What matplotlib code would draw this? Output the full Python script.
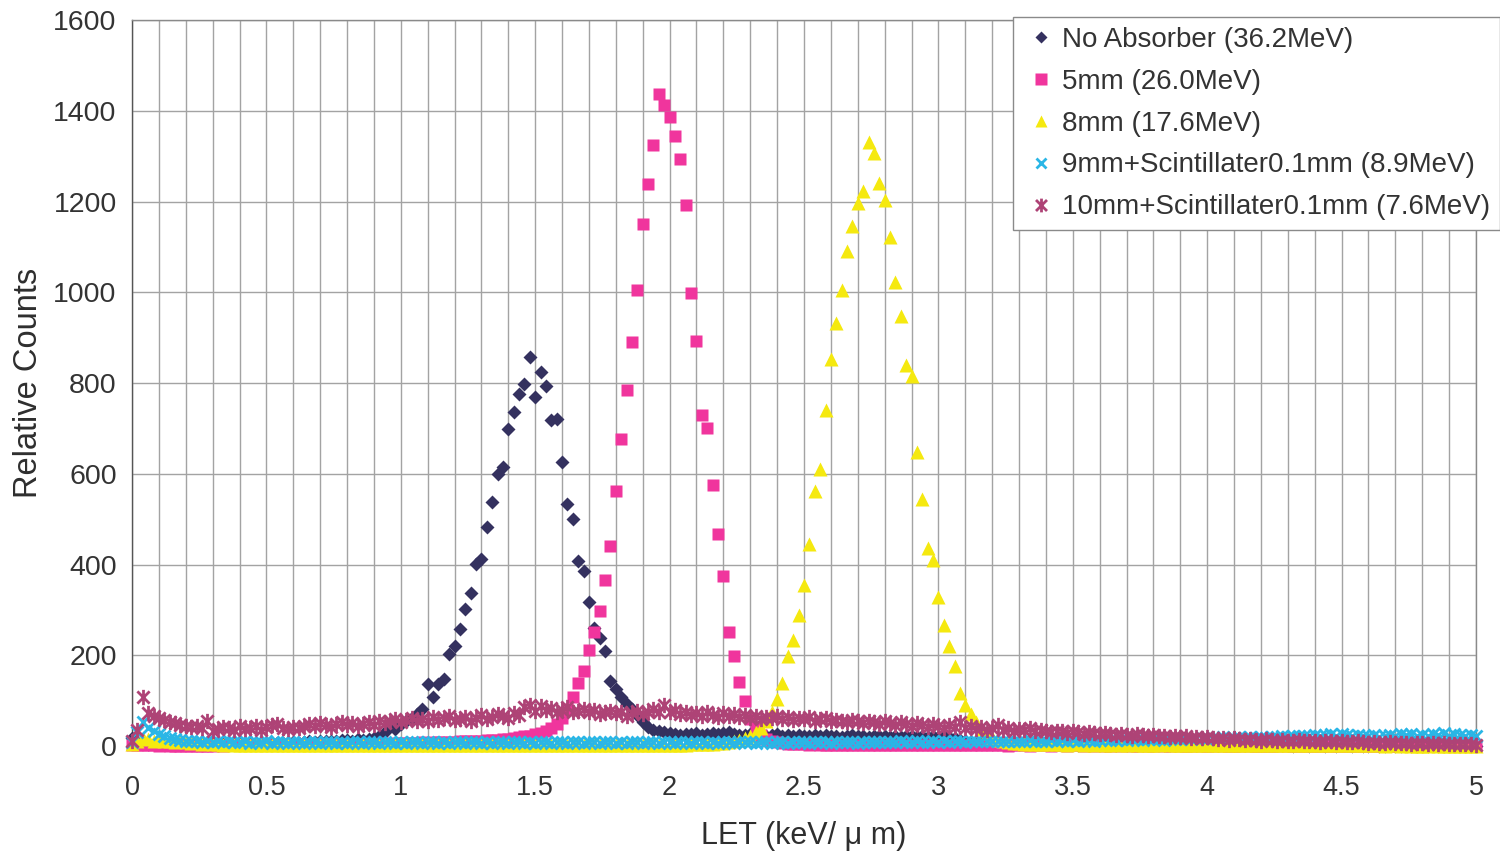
import numpy as np
import matplotlib
matplotlib.use("Agg")
import matplotlib.pyplot as plt
from matplotlib.path import Path
from matplotlib.ticker import MultipleLocator, FuncFormatter

plt.rcParams['font.family'] = ['Liberation Sans', 'DejaVu Sans']

# LET bins, 0.02 keV/um wide, 0 .. 5
bin_width = 0.02
let_bins = np.round(np.arange(251) * bin_width, 2)

# counts per bin (one row = 0.2 keV/um)
no_absorber = [
    18, 8, 6, 5, 4, 5, 4, 6, 5, 4,
    5, 4, 5, 6, 4, 5, 4, 5, 6, 5,
    4, 5, 6, 5, 4, 6, 5, 6, 7, 6,
    8, 7, 9, 10, 8, 11, 12, 10, 12, 13,
    14, 12, 15, 14, 16, 18, 22, 30, 44, 38,
    48, 55, 62, 70, 81, 137, 108, 137, 147, 202,
    221, 257, 302, 338, 401, 412, 482, 537, 600, 616,
    698, 736, 775, 798, 857, 770, 824, 794, 719, 721,
    627, 533, 500, 408, 385, 318, 261, 239, 210, 143,
    125, 107, 92, 82, 68, 52, 42, 36, 32, 30,
    28, 26, 25, 27, 26, 28, 25, 27, 29, 26,
    28, 30, 27, 25, 24, 26, 23, 25, 22, 24,
    26, 23, 25, 22, 24, 21, 23, 25, 22, 24,
    21, 23, 20, 22, 24, 21, 23, 20, 22, 21,
    23, 20, 22, 19, 21, 23, 20, 22, 19, 21,
    20, 22, 19, 18, 14, 10, 8, 7, 6, 6,
    5, 6, 5, 6, 5, 4, 5, 6, 5, 4,
    5, 4, 5, 4, 5, 4, 3, 4, 5, 4,
    4, 3, 4, 3, 4, 3, 4, 3, 3, 4,
    3, 4, 3, 3, 2, 3, 3, 2, 3, 3,
    2, 3, 3, 2, 3, 2, 2, 3, 2, 2,
    3, 2, 2, 3, 2, 2, 1, 2, 2, 1,
    2, 2, 1, 2, 1, 2, 2, 1, 2, 1,
    1, 2, 1, 1, 2, 1, 1, 2, 1, 1,
    1, 1, 2, 1, 1, 1, 2, 1, 1, 1,
    1,
]

al_5mm = [
    3, 2, 3, 2, 2, 1, 2, 1, 1, 1,
    1, 0, 1, 0, 1, 1, 2, 1, 2, 2,
    2, 2, 3, 2, 3, 2, 3, 3, 2, 3,
    3, 3, 4, 3, 4, 3, 4, 4, 3, 4,
    4, 5, 4, 5, 4, 5, 5, 6, 5, 6,
    6, 7, 6, 7, 8, 7, 8, 9, 8, 9,
    9, 10, 10, 11, 12, 12, 13, 14, 14, 15,
    16, 18, 20, 22, 22, 26, 28, 33, 40, 48,
    62, 82, 109, 139, 165, 212, 252, 297, 365, 440,
    561, 677, 785, 891, 1004, 1151, 1238, 1325, 1438, 1412,
    1386, 1344, 1294, 1193, 998, 893, 729, 702, 576, 468,
    374, 252, 198, 142, 100, 60, 40, 25, 15, 10,
    8, 6, 5, 5, 4, 4, 3, 4, 3, 3,
    3, 3, 2, 3, 3, 2, 3, 2, 3, 2,
    2, 3, 2, 2, 3, 2, 2, 3, 2, 2,
    2, 2, 3, 2, 2, 2, 3, 2, 2, 2,
    2, 2, 2, 1, 2, 2, 2, 1, 2, 2,
    2, 1, 2, 2, 1, 2, 2, 1, 2, 1,
    2, 1, 1, 2, 1, 2, 1, 1, 2, 1,
    1, 2, 1, 1, 2, 1, 1, 1, 2, 1,
    1, 1, 2, 1, 1, 1, 1, 2, 1, 1,
    1, 1, 1, 1, 2, 1, 1, 1, 1, 1,
    1, 1, 1, 1, 1, 1, 1, 1, 1, 1,
    1, 1, 1, 0, 1, 1, 1, 0, 1, 1,
    1, 0, 1, 1, 0, 1, 1, 0, 1, 0,
    1,
]

al_8mm = [
    4, 12, 18, 15, 12, 14, 10, 12, 9, 10,
    8, 7, 8, 5, 6, 4, 5, 3, 4, 3,
    3, 2, 3, 2, 2, 3, 2, 2, 3, 2,
    2, 3, 2, 2, 3, 2, 2, 3, 2, 2,
    3, 2, 2, 3, 2, 2, 3, 2, 3, 2,
    2, 3, 2, 2, 3, 2, 2, 3, 2, 2,
    3, 2, 2, 3, 2, 3, 2, 2, 3, 2,
    2, 3, 2, 2, 3, 2, 3, 2, 2, 3,
    2, 2, 3, 2, 3, 2, 2, 3, 2, 3,
    2, 3, 2, 3, 2, 2, 3, 2, 3, 3,
    2, 3, 3, 3, 4, 4, 4, 5, 5, 6,
    6, 8, 10, 13, 17, 22, 30, 40, 55, 75,
    103, 138, 198, 234, 288, 354, 445, 563, 611, 741,
    853, 933, 1004, 1092, 1147, 1196, 1224, 1332, 1308, 1241,
    1204, 1122, 1022, 947, 840, 816, 648, 544, 437, 410,
    328, 266, 220, 176, 116, 90, 70, 52, 38, 28,
    20, 14, 10, 8, 7, 6, 5, 5, 4, 5,
    4, 4, 5, 4, 3, 4, 4, 3, 4, 3,
    4, 3, 3, 4, 3, 3, 4, 3, 3, 3,
    3, 3, 4, 3, 3, 3, 2, 3, 3, 3,
    3, 2, 3, 3, 2, 3, 3, 2, 3, 2,
    3, 2, 2, 3, 2, 2, 3, 2, 2, 2,
    2, 3, 2, 2, 2, 3, 2, 2, 2, 2,
    2, 2, 2, 1, 2, 2, 1, 2, 1, 1,
    1, 1, 2, 1, 1, 1, 1, 1, 1, 1,
    1,
]

al_9mm_scint = [
    8, 30, 52, 40, 32, 26, 22, 18, 16, 14,
    12, 10, 12, 9, 11, 9, 10, 8, 10, 9,
    8, 10, 7, 9, 8, 10, 7, 9, 8, 7,
    9, 8, 7, 9, 8, 7, 9, 8, 7, 8,
    7, 9, 8, 7, 8, 9, 7, 8, 9, 7,
    8, 7, 9, 8, 7, 8, 9, 7, 8, 7,
    9, 8, 7, 8, 9, 7, 8, 7, 9, 8,
    7, 8, 9, 7, 8, 7, 9, 8, 7, 8,
    8, 7, 9, 8, 7, 9, 8, 7, 8, 9,
    7, 8, 7, 9, 8, 7, 8, 9, 7, 8,
    8, 7, 9, 8, 7, 8, 9, 7, 8, 7,
    9, 8, 7, 8, 9, 8, 7, 9, 8, 7,
    8, 9, 7, 8, 9, 8, 7, 9, 8, 8,
    7, 9, 8, 8, 9, 7, 8, 9, 8, 9,
    8, 9, 8, 10, 9, 8, 10, 9, 8, 10,
    9, 10, 9, 11, 10, 9, 11, 10, 12, 10,
    11, 10, 12, 11, 10, 12, 11, 13, 12, 11,
    12, 13, 11, 13, 12, 14, 12, 13, 14, 12,
    13, 15, 14, 13, 15, 14, 16, 15, 14, 16,
    15, 16, 14, 17, 16, 15, 17, 16, 18, 17,
    16, 18, 17, 19, 17, 18, 20, 18, 19, 17,
    19, 18, 20, 19, 21, 20, 22, 21, 23, 22,
    24, 22, 25, 27, 23, 26, 24, 22, 25, 23,
    21, 24, 20, 23, 25, 22, 26, 24, 27, 23,
    25, 22, 26, 24, 28, 23, 26, 25, 22, 24,
    23,
]

al_10mm_scint = [
    12, 35, 108, 72, 66, 62, 58, 52, 50, 46,
    44, 42, 45, 40, 55, 33, 38, 42, 40, 36,
    44, 38, 40, 44, 36, 42, 46, 48, 40, 37,
    42, 40, 44, 48, 44, 50, 46, 42, 48, 52,
    46, 50, 44, 48, 52, 46, 54, 50, 56, 60,
    52, 58, 62, 55, 60, 56, 64, 58, 62, 66,
    58, 60, 64, 56, 62, 68, 60, 64, 70, 66,
    62, 72, 68, 86, 90, 78, 88, 80, 84, 76,
    80, 86, 74, 78, 82, 76, 80, 70, 74, 78,
    72, 76, 66, 72, 78, 70, 74, 82, 76, 90,
    74, 80, 70, 76, 68, 72, 66, 74, 68, 64,
    72, 66, 70, 64, 68, 62, 66, 60, 64, 62,
    66, 60, 64, 58, 62, 60, 64, 56, 60, 62,
    54, 58, 56, 52, 58, 54, 50, 56, 52, 48,
    54, 50, 46, 52, 48, 44, 50, 46, 42, 48,
    44, 40, 46, 42, 52, 40, 44, 38, 42, 36,
    40, 46, 36, 40, 34, 38, 36, 40, 32, 36,
    34, 30, 34, 32, 28, 32, 30, 26, 30, 28,
    26, 28, 26, 24, 27, 25, 22, 26, 24, 22,
    24, 21, 23, 20, 22, 19, 21, 18, 20, 17,
    19, 17, 15, 18, 14, 17, 15, 13, 16, 14,
    12, 15, 13, 11, 14, 12, 10, 13, 11, 10,
    12, 9, 11, 10, 8, 11, 9, 8, 10, 8,
    7, 9, 7, 6, 8, 7, 6, 7, 5, 6,
    7, 5, 6, 4, 6, 5, 4, 5, 4, 5,
    3,
]

labels = [
    "No Absorber (36.2MeV)",
    "5mm (26.0MeV)",
    "8mm (17.6MeV)",
    "9mm+Scintillater0.1mm (8.9MeV)",
    "10mm+Scintillater0.1mm (7.6MeV)",
]
colors = ['#34315f', '#f0359d', '#f5e90f', '#2ab6e6', '#ae4376']

# six-armed asterisk: an "x" with a vertical bar through it
star = Path(
    [(-1, -1), (1, 1), (-1, 1), (1, -1), (0, -1.25), (0, 1.25)],
    [Path.MOVETO, Path.LINETO, Path.MOVETO, Path.LINETO, Path.MOVETO, Path.LINETO],
)

styles = [
    dict(marker='D', ms=7.0, mec='none'),
    dict(marker='s', ms=9.0, mec='none'),
    dict(marker='^', ms=10.0, mec='none'),
    dict(marker='x', ms=8.0, mew=2.0),
    dict(marker=star, ms=11, mew=2.0, mfc='none'),
]

series = [no_absorber, al_5mm, al_8mm, al_9mm_scint, al_10mm_scint]

fig = plt.figure(figsize=(15, 8.55), dpi=100)
ax = fig.add_axes([0.088, 0.1275, 0.896, 0.849])

for k, (vals, lab, col, st) in enumerate(zip(series, labels, colors, styles)):
    st = dict(st)
    if st['marker'] == 'x' or k == 4:
        st['mec'] = col
    ax.plot(let_bins, vals, linestyle='none', color=col, label=lab,
            clip_on=False, zorder=3 + k, **st)

ax.set_xlim(0, 5)
ax.set_ylim(0, 1600)
ax.xaxis.set_major_locator(MultipleLocator(0.5))
ax.xaxis.set_minor_locator(MultipleLocator(0.1))
ax.yaxis.set_major_locator(MultipleLocator(200))
ax.xaxis.set_major_formatter(FuncFormatter(lambda v, p: f"{v:g}"))

ax.grid(axis='x', which='both', color='#a3a3a3', lw=1.0)
ax.grid(axis='y', which='major', color='#a3a3a3', lw=1.0)
ax.set_axisbelow(True)

for sp in ax.spines.values():
    sp.set_color('#8a8a8a')
    sp.set_linewidth(1.0)
ax.spines['left'].set_color('#555555')

ax.tick_params(axis='both', which='both', length=0, colors='#333333')
ax.tick_params(axis='x', labelsize=19.5, pad=21)
ax.tick_params(axis='y', labelsize=20.5, pad=11)

ax.set_xlabel("LET (keV/ \u03bc m)", fontsize=22, color='#2e2e2e', labelpad=14)
ax.set_ylabel("Relative Counts", fontsize=23.5, color='#2e2e2e', labelpad=7)

leg = ax.legend(loc='upper right', bbox_to_anchor=(1.0, 1 - 17 / 855),
                bbox_transform=fig.transFigure, fontsize=20,
                frameon=True, fancybox=False, framealpha=1, edgecolor='#8a8a8a',
                borderaxespad=0, borderpad=0.36, labelspacing=0.57,
                handlelength=1.3, handletextpad=0.1, markerscale=0.9)
leg.get_frame().set_linewidth(1.0)
for t in leg.get_texts():
    t.set_color('#333333')

fig.savefig("out.png", dpi=100)
